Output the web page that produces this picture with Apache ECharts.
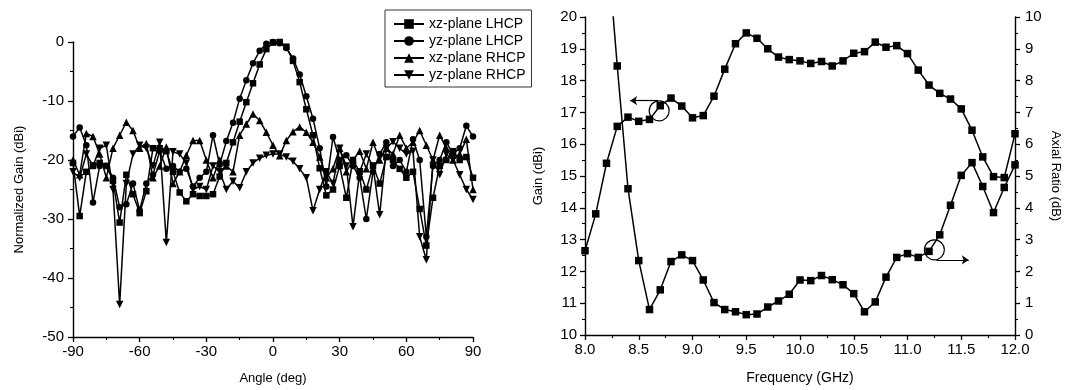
<!DOCTYPE html>
<html><head><meta charset="utf-8">
<script src="https://cdn.jsdelivr.net/npm/echarts@6/dist/echarts.min.js"></script>
<style>html,body{margin:0;padding:0;background:#fff}#c{width:1066px;height:390px}</style>
</head><body><div id="c"></div>
<script>
// ---------- Left panel: radiation patterns ----------
const angles = [-90,-87,-84,-81,-78,-75,-72,-69,-66,-63,-60,-57,-54,-51,-48,-45,-42,-39,-36,-33,-30,-27,-24,-21,-18,-15,-12,-9,-6,-3,0,3,6,9,12,15,18,21,24,27,30,33,36,39,42,45,48,51,54,57,60,63,66,69,72,75,78,81,84,87,90];
const xzLHCP = [-20.5,-29.5,-22,-21,-20.5,-21,-23.5,-30.6,-22.5,-25.8,-29,-25.3,-18,-18,-18.5,-22,-25.5,-27,-25.8,-26.1,-26.1,-25.8,-22.8,-20.5,-17,-13.5,-10.2,-7,-3.8,-1.2,-0.1,0,-0.8,-3.2,-6.8,-11.4,-15.8,-21.4,-26,-25,-21,-26.4,-20,-22,-25,-21,-24,-19.5,-20,-21.5,-23,-22,-28.3,-34.5,-26.4,-21,-20,-18.5,-20,-19.5,-23];
const yzLHCP = [-16,-14.5,-17.5,-27.2,-21,-21,-23,-28,-27.5,-24,-28.5,-24,-22.5,-18.5,-21.5,-21,-22,-21.5,-24.5,-23,-22,-15.8,-20.8,-16.8,-13.7,-9.6,-6.5,-3.6,-1.5,-0.3,0,-0.2,-1,-2.8,-5.5,-9.2,-13,-18,-24.5,-16.1,-20,-19.2,-21,-23,-30,-22,-19,-17,-21,-20,-22,-16.5,-20,-33,-21,-20,-17,-19,-18,-14.2,-16];
const xzRHCP = [-20,-22.5,-15.5,-16,-19,-23,-18,-15.8,-13.6,-15,-18,-17.2,-23,-21,-17.8,-24,-22,-19.2,-16.7,-16.7,-20,-23,-20,-21,-22,-15.8,-13.9,-12.2,-13.3,-15.3,-17.5,-19.3,-16.7,-15.2,-14.4,-15.3,-17,-19.5,-23,-21.5,-18,-22,-20,-18.5,-21.5,-17,-20,-18,-19,-15.8,-18,-17,-15,-17.5,-20,-15.8,-18,-20,-19,-16.5,-25];
const yzRHCP = [-22,-23,-19,-21,-18,-17.5,-25,-44.5,-24,-19,-17.5,-18,-21,-17,-34,-18.6,-19,-20.5,-25,-24.5,-25,-21,-22,-25,-23.6,-24.7,-22,-20.5,-19.7,-19.2,-19,-19,-19.5,-20.2,-21.5,-23,-28.6,-25,-22,-24,-18,-21,-31.3,-22,-19,-21,-29.3,-18,-16.9,-18,-19,-18.5,-33,-36.9,-20,-22.5,-19,-20,-22.5,-25,-26.7];
const patternNames = ['xz-plane LHCP','yz-plane LHCP','xz-plane RHCP','yz-plane RHCP'];

// ---------- Right panel: gain and axial ratio ----------
const freqs = [8.0,8.1,8.2,8.3,8.4,8.5,8.6,8.7,8.8,8.9,9.0,9.1,9.2,9.3,9.4,9.5,9.6,9.7,9.8,9.9,10.0,10.1,10.2,10.3,10.4,10.5,10.6,10.7,10.8,10.9,11.0,11.1,11.2,11.3,11.4,11.5,11.6,11.7,11.8,11.9,12.0];
const gain = [12.65,13.81,15.40,16.56,16.85,16.72,16.78,17.21,17.45,17.20,16.83,16.90,17.51,18.36,19.16,19.50,19.33,19.00,18.74,18.66,18.62,18.54,18.60,18.46,18.62,18.86,18.91,19.21,19.05,19.10,18.85,18.33,17.86,17.60,17.42,17.11,16.44,15.60,14.98,14.95,16.33];
const axialRatio = [null,null,12.6,8.46,4.60,2.34,0.80,1.42,2.31,2.52,2.34,1.73,1.02,0.80,0.73,0.64,0.66,0.88,1.07,1.28,1.73,1.71,1.87,1.74,1.58,1.30,0.73,1.04,1.82,2.44,2.56,2.44,2.63,3.15,4.08,5.02,5.42,4.67,3.85,4.64,5.35];

const FONT = '"Liberation Sans", Arial, sans-serif';
const BLACK = '#000';

function axisBase(extra) {
  return Object.assign({
    type: 'value',
    axisLine: { show: true, onZero: false, lineStyle: { color: BLACK, width: 1.4 } },
    axisTick: { show: true, inside: false, length: 5, lineStyle: { color: BLACK, width: 1.3 } },
    minorTick: { show: true, splitNumber: 2, length: 3, lineStyle: { color: BLACK, width: 1.1 } },
    splitLine: { show: false },
    minorSplitLine: { show: false },
    axisLabel: { color: BLACK, fontSize: 15, fontFamily: FONT },
    nameLocation: 'middle',
    nameTextStyle: { color: BLACK, fontSize: 13, fontFamily: FONT }
  }, extra);
}

const downTri = 'path://M0,0L10,0L5,9Z';
const symbols = ['rect', 'circle', 'triangle', downTri];
const sizes = [6.5, 6.5, 7.5, 7.5];
const patternData = [xzLHCP, yzLHCP, xzRHCP, yzRHCP];

const patternSeries = patternNames.map((n, i) => ({
  name: n,
  type: 'line',
  xAxisIndex: 0,
  yAxisIndex: 0,
  data: angles.map((a, k) => [a, patternData[i][k]]),
  symbol: symbols[i],
  symbolSize: sizes[i],
  showAllSymbol: true,
  lineStyle: { color: BLACK, width: 1.5 },
  itemStyle: { color: BLACK },
  z: 3 + i
}));

const option = {
  animation: false,
  backgroundColor: '#fff',
  grid: [
    { left: 73, top: 42, width: 400, height: 299 },
    { left: 585, top: 17, width: 430, height: 321 }
  ],
  legend: {
    data: patternNames,
    orient: 'vertical',
    left: 385,
    top: 10,
    itemWidth: 30,
    itemHeight: 12,
    itemGap: 3,
    padding: [7, 6, 5, 8],
    borderColor: '#333',
    borderWidth: 1,
    textStyle: { color: BLACK, fontSize: 14, fontFamily: FONT }
  },
  xAxis: [
    axisBase({ gridIndex: 0, min: -90, max: 90, interval: 30, name: 'Angle (deg)', nameGap: 35,
      axisLabel: { color: BLACK, fontSize: 15, fontFamily: FONT, margin: 7 } }),
    axisBase({ gridIndex: 1, min: 8, max: 12, interval: 0.5, name: 'Frequency (GHz)', nameGap: 36,
      nameTextStyle: { color: BLACK, fontSize: 14, fontFamily: FONT },
      axisLabel: { color: BLACK, fontSize: 15, fontFamily: FONT, margin: 7, formatter: v => v.toFixed(1) } })
  ],
  yAxis: [
    axisBase({ gridIndex: 0, min: -50, max: 0, interval: 10, name: 'Normalized Gain (dBi)', nameGap: 47,
      axisLabel: { color: BLACK, fontSize: 15, fontFamily: FONT, margin: 9 } }),
    axisBase({ gridIndex: 1, min: 10, max: 20, interval: 1, name: 'Gain (dBi)', nameGap: 40,
      axisLabel: { color: BLACK, fontSize: 15, fontFamily: FONT, margin: 8 } }),
    axisBase({ gridIndex: 1, min: 0, max: 10, interval: 1, position: 'right', name: 'Axial Ratio (dB)', nameGap: 34, nameRotate: -90,
      axisLabel: { color: BLACK, fontSize: 15, fontFamily: FONT, margin: 10 } })
  ],
  series: patternSeries.concat([
    {
      name: 'Gain',
      type: 'line',
      xAxisIndex: 1,
      yAxisIndex: 1,
      data: freqs.map((f, k) => [f, gain[k]]),
      symbol: 'rect',
      symbolSize: 7.5,
      lineStyle: { color: BLACK, width: 1.5 },
      itemStyle: { color: BLACK },
      markPoint: {
        silent: true,
        symbol: 'circle',
        symbolSize: 20,
        itemStyle: { color: 'rgba(0,0,0,0)', borderColor: BLACK, borderWidth: 1.2 },
        label: { show: false },
        data: [{ coord: [8.69, 17.05] }]
      },
      markLine: {
        silent: true,
        symbol: ['none', 'arrow'],
        symbolSize: 7,
        lineStyle: { color: BLACK, width: 1.2, type: 'solid' },
        label: { show: false },
        data: [[{ coord: [8.68, 17.37] }, { coord: [8.42, 17.37] }]]
      }
    },
    {
      name: 'Axial Ratio',
      type: 'line',
      xAxisIndex: 1,
      yAxisIndex: 2,
      clip: true,
      data: freqs.map((f, k) => [f, axialRatio[k]]),
      symbol: 'rect',
      symbolSize: 7.5,
      lineStyle: { color: BLACK, width: 1.5 },
      itemStyle: { color: BLACK },
      markPoint: {
        silent: true,
        symbol: 'circle',
        symbolSize: 20,
        itemStyle: { color: 'rgba(0,0,0,0)', borderColor: BLACK, borderWidth: 1.2 },
        label: { show: false },
        data: [{ coord: [11.25, 2.68] }]
      },
      markLine: {
        silent: true,
        symbol: ['none', 'arrow'],
        symbolSize: 7,
        lineStyle: { color: BLACK, width: 1.2, type: 'solid' },
        label: { show: false },
        data: [[{ coord: [11.27, 2.36] }, { coord: [11.57, 2.36] }]]
      }
    }
  ])
};

const chart = echarts.init(document.getElementById('c'), null, { renderer: 'canvas' });
chart.setOption(option);
</script>
</body></html>
